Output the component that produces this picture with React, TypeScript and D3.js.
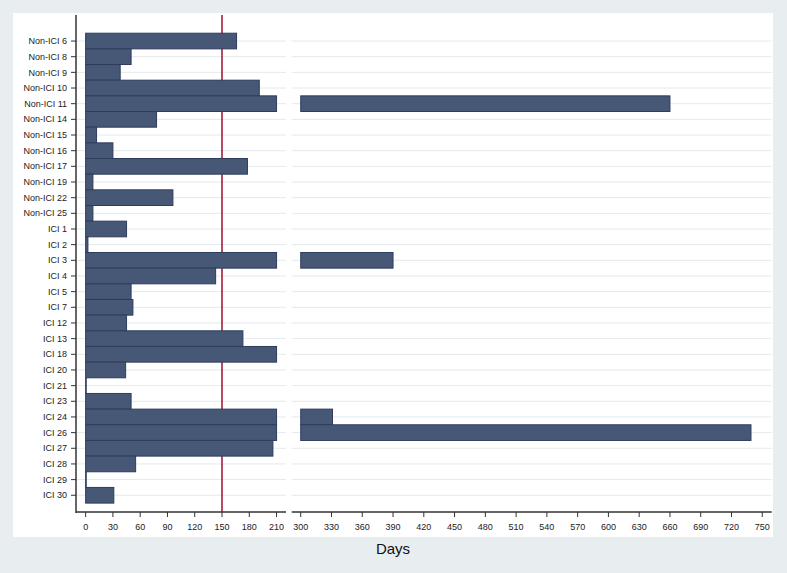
import React from "react";
import * as d3 from "d3";

const categories = [
  "Non-ICI 6", "Non-ICI 8", "Non-ICI 9", "Non-ICI 10", "Non-ICI 11", "Non-ICI 14",
  "Non-ICI 15", "Non-ICI 16", "Non-ICI 17", "Non-ICI 19", "Non-ICI 22", "Non-ICI 25",
  "ICI 1", "ICI 2", "ICI 3", "ICI 4", "ICI 5", "ICI 7", "ICI 12", "ICI 13", "ICI 18",
  "ICI 20", "ICI 21", "ICI 23", "ICI 24", "ICI 26", "ICI 27", "ICI 28", "ICI 29", "ICI 30",
];
const days = [
  166, 50, 38, 191, 660, 78,
  12, 30, 178, 8, 96, 8,
  45, 2.5, 390, 143, 50, 52, 45, 173, 210,
  44, 0.6, 50, 331, 739, 206, 55, 0.6, 31,
];
const leftTicks = [0, 30, 60, 90, 120, 150, 180, 210];
const rightTicks = [300, 330, 360, 390, 420, 450, 480, 510, 540, 570, 600, 630, 660, 690, 720, 750];
const referenceLine = 150;
const breakLow = 210;
const breakHigh = 300;

export default function App() {
  const W = 787, H = 573;
  const xL = d3.scaleLinear().domain([-10.6, 220.4]).range([76, 286]);
  const xR = d3.scaleLinear().domain([291.2, 759.2]).range([291.7, 771.7]);
  const y = d3.scaleBand<string>().domain(categories).range([33.2, 503.1]).paddingInner(0);
  const axisY = 512;
  const barFill = "#475776";
  const barStroke = "#2e3c5d";
  const font = "'Liberation Sans', Arial, sans-serif";
  const bw = y.bandwidth();

  return (
    <svg width={W} height={H} style={{ position: "absolute", left: 0, top: 0, display: "block" }}>
      <rect x={0} y={0} width={W} height={H} fill="#e8edf0" />
      <rect x={13} y={13} width={760} height={524} fill="#ffffff" />
      {/* gridlines */}
      {categories.map((c) => {
        const cy = (y(c) as number) + bw / 2;
        return (
          <g key={"g" + c}>
            <line x1={77} x2={286} y1={cy} y2={cy} stroke="#e3eaed" strokeWidth={1} />
            <line x1={291.7} x2={771.7} y1={cy} y2={cy} stroke="#e3eaed" strokeWidth={1} />
          </g>
        );
      })}
      {/* reference line */}
      <line x1={xL(referenceLine)} x2={xL(referenceLine)} y1={15} y2={axisY} stroke="#a61e3a" strokeWidth={1.6} />
      {/* bars */}
      {categories.map((c, i) => {
        const v = days[i];
        const top = y(c) as number;
        const leftEnd = Math.min(v, breakLow);
        return (
          <g key={"b" + c}>
            <rect x={xL(0)} y={top} width={Math.max(xL(leftEnd) - xL(0), 0.6)} height={bw}
              fill={barFill} stroke={barStroke} strokeWidth={1} />
            {v > breakLow && (
              <rect x={xR(breakHigh)} y={top} width={xR(v) - xR(breakHigh)} height={bw}
                fill={barFill} stroke={barStroke} strokeWidth={1} />
            )}
          </g>
        );
      })}
      {/* y axis */}
      <line x1={76} x2={76} y1={15} y2={axisY + 1} stroke="#666666" strokeWidth={2} />
      {categories.map((c) => {
        const cy = (y(c) as number) + bw / 2;
        return (
          <g key={"t" + c}>
            <line x1={71} x2={76} y1={cy} y2={cy} stroke="#333" strokeWidth={1} />
            <text x={67} y={cy} dy="0.35em" textAnchor="end" fontFamily={font} fontSize={9} fill="#222">{c}</text>
          </g>
        );
      })}
      {/* x axes */}
      <line x1={76} x2={286} y1={axisY} y2={axisY} stroke="#333" strokeWidth={1.3} />
      <line x1={291.7} x2={771.7} y1={axisY} y2={axisY} stroke="#333" strokeWidth={1.3} />
      {leftTicks.map((t) => (
        <g key={"lt" + t}>
          <line x1={xL(t)} x2={xL(t)} y1={axisY} y2={axisY + 5} stroke="#333" strokeWidth={1} />
          <text x={xL(t)} y={axisY + 15} dy="0.35em" textAnchor="middle" fontFamily={font} fontSize={9} fill="#222">{t}</text>
        </g>
      ))}
      {rightTicks.map((t) => (
        <g key={"rt" + t}>
          <line x1={xR(t)} x2={xR(t)} y1={axisY} y2={axisY + 5} stroke="#333" strokeWidth={1} />
          <text x={xR(t)} y={axisY + 15} dy="0.35em" textAnchor="middle" fontFamily={font} fontSize={9} fill="#222">{t}</text>
        </g>
      ))}
      <text x={393} y={549} dy="0.35em" textAnchor="middle" fontFamily={font} fontSize={15} fill="#111">Days</text>
    </svg>
  );
}
